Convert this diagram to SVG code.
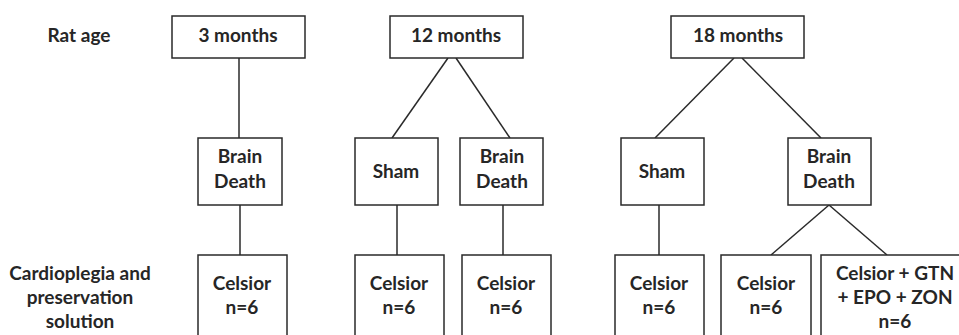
<svg xmlns="http://www.w3.org/2000/svg" width="959" height="335" viewBox="0 0 959 335">
<style>
.box{fill:#fff;stroke:#2a2a2a;stroke-width:1.5}
.ln{stroke:#2a2a2a;stroke-width:1.5;fill:none}
text{font-family:Lato,"Liberation Sans",sans-serif;font-weight:bold;font-size:19px;fill:#262626;text-anchor:middle}
</style>
<rect width="959" height="335" fill="#fff"/>
<g id="labels">
<text x="79" y="42">Rat age</text>
<text x="80" y="280">Cardioplegia and</text>
<text x="80" y="304">preservation</text>
<text x="80" y="328">solution</text>
</g>
<g id="connectors">
<line class="ln" x1="239" y1="58" x2="239" y2="138"/>
<line class="ln" x1="448" y1="58" x2="392" y2="138"/>
<line class="ln" x1="456" y1="58" x2="510" y2="138"/>
<line class="ln" x1="734" y1="58" x2="655" y2="138"/>
<line class="ln" x1="742" y1="58" x2="821" y2="138"/>
<line class="ln" x1="240" y1="205" x2="240" y2="255"/>
<line class="ln" x1="397" y1="205" x2="397" y2="255"/>
<line class="ln" x1="503" y1="205" x2="503" y2="255"/>
<line class="ln" x1="659" y1="205" x2="659" y2="255"/>
<line class="ln" x1="829" y1="205" x2="771" y2="255"/>
<line class="ln" x1="829" y1="205" x2="887" y2="255"/>
</g>
<g id="age3"><rect class="box" x="172" y="16" width="133" height="42"/><text x="238" y="42">3 months</text></g>
<g id="age12"><rect class="box" x="390" y="16" width="133" height="42"/><text x="456" y="42">12 months</text></g>
<g id="age18"><rect class="box" x="671" y="16" width="133" height="42"/><text x="738" y="42">18 months</text></g>
<g id="bd3"><rect class="box" x="198" y="138" width="84" height="67"/><text x="240" y="163">Brain</text><text x="240" y="188">Death</text></g>
<g id="sham12"><rect class="box" x="355" y="138" width="83" height="67"/><text x="396" y="178">Sham</text></g>
<g id="bd12"><rect class="box" x="460" y="138" width="83" height="67"/><text x="502" y="163">Brain</text><text x="502" y="188">Death</text></g>
<g id="sham18"><rect class="box" x="621" y="138" width="83" height="67"/><text x="662" y="178">Sham</text></g>
<g id="bd18"><rect class="box" x="788" y="138" width="83" height="67"/><text x="829" y="163">Brain</text><text x="829" y="188">Death</text></g>
<g id="cel3"><rect class="box" x="198" y="255" width="89" height="100"/><text x="242" y="290">Celsior</text><text x="242" y="314">n=6</text></g>
<g id="cel12s"><rect class="box" x="355" y="255" width="89" height="100"/><text x="399" y="290">Celsior</text><text x="399" y="314">n=6</text></g>
<g id="cel12b"><rect class="box" x="462" y="255" width="89" height="100"/><text x="506" y="290">Celsior</text><text x="506" y="314">n=6</text></g>
<g id="cel18s"><rect class="box" x="615" y="255" width="89" height="100"/><text x="659" y="290">Celsior</text><text x="659" y="314">n=6</text></g>
<g id="cel18b"><rect class="box" x="721" y="255" width="90" height="100"/><text x="766" y="290">Celsior</text><text x="766" y="314">n=6</text></g>
<g id="combo"><rect class="box" x="821" y="255" width="145" height="100"/><text x="895" y="280">Celsior + GTN</text><text x="895" y="304">+ EPO + ZON</text><text x="895" y="328">n=6</text></g>
</svg>
